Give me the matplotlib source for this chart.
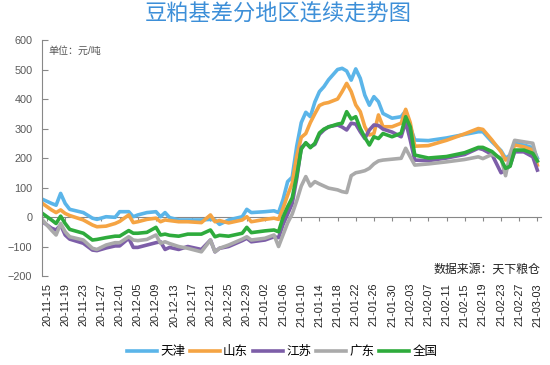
import numpy as np
import pandas as pd
import matplotlib
matplotlib.use('Agg')
import matplotlib.pyplot as plt
import matplotlib.dates as mdates

plt.rcParams['font.family'] = ['Liberation Sans', 'Noto Sans CJK SC', 'DejaVu Sans']

# sample dates
dates = ['2020-11-14', '2020-11-16', '2020-11-17', '2020-11-18', '2020-11-19', '2020-11-20',
         '2020-11-23', '2020-11-25', '2020-11-26', '2020-11-28', '2020-11-30', '2020-12-01',
         '2020-12-03', '2020-12-04', '2020-12-05', '2020-12-07', '2020-12-09', '2020-12-10',
         '2020-12-11', '2020-12-12', '2020-12-14', '2020-12-16', '2020-12-19', '2020-12-21',
         '2020-12-22', '2020-12-23', '2020-12-25', '2020-12-28', '2020-12-29', '2020-12-30',
         '2021-01-02', '2021-01-04', '2021-01-05', '2021-01-06', '2021-01-07', '2021-01-08',
         '2021-01-09', '2021-01-10', '2021-01-11', '2021-01-12', '2021-01-13', '2021-01-14',
         '2021-01-15', '2021-01-16', '2021-01-18', '2021-01-19', '2021-01-20', '2021-01-21',
         '2021-01-22', '2021-01-23', '2021-01-24', '2021-01-25', '2021-01-26', '2021-01-27',
         '2021-01-28', '2021-01-30', '2021-02-01', '2021-02-02', '2021-02-03', '2021-02-04',
         '2021-02-07', '2021-02-11', '2021-02-15', '2021-02-18', '2021-02-19', '2021-02-21',
         '2021-02-23', '2021-02-24', '2021-02-25', '2021-02-26', '2021-02-28', '2021-03-02',
         '2021-03-03']

tianjin = [60, 46, 40, 80, 46, 26, 15, -4, -8, 1, -1, 18, 18, 1, 7, 15, 18, 1, 15, -2,
           -10, -10, -10, -8, -10, -25, -10, 1, 26, 15, 18, 21, 15, 60, 120, 135, 240, 320,
           355, 340, 390, 425, 442, 465, 500, 504, 495, 464, 502, 470, 413, 379, 408, 391,
           351, 335, 340, 360, 306, 261, 259, 268, 280, 289, 289, 255, 225, 199, 210, 250,
           244, 235, 200]
shandong = [46, 24, 15, 24, 12, 5, -10, -27, -33, -31, -22, -15, 7, -19, -16, -8, -4, -16,
            -10, -12, -16, -16, -19, 7, -16, -12, -20, -10, 1, -16, -8, -4, -8, 30, 74, 114,
            205, 270, 283, 320, 350, 378, 385, 388, 400, 425, 453, 425, 380, 357, 306, 278,
            283, 346, 306, 306, 318, 365, 320, 240, 242, 260, 282, 300, 297, 261, 221, 193,
            204, 244, 238, 227, 176]
jiangsu = [-16, -38, -44, -27, -61, -75, -89, -112, -114, -105, -98, -98, -72, -103, -103,
           -95, -87, -84, -110, -103, -110, -100, -110, -78, -118, -106, -100, -80, -72, -84,
           -78, -67, -70, -25, 10, 45, 130, 235, 250, 238, 246, 280, 295, 306, 312, 305, 295,
           318, 315, 289, 266, 295, 312, 310, 298, 288, 272, 323, 261, 193, 191, 200, 212,
           233, 229, 212, 150, 160, 175, 221, 221, 204, 159]
guangdong = [-10, -45, -61, -22, -50, -67, -78, -106, -110, -95, -87, -87, -67, -78, -80,
             -76, -61, -89, -84, -90, -100, -106, -118, -78, -118, -106, -95, -75, -67, -78,
             -72, -61, -100, -60, -20, 10, 55, 105, 137, 105, 120, 112, 105, 98, 92, 86, 83,
             140, 150, 153, 157, 165, 180, 190, 193, 196, 199, 233, 204, 176, 180, 187, 195,
             204, 198, 212, 200, 140, 215, 260, 255, 250, 190]
quanguo = [12, -10, -22, 3, -22, -42, -55, -78, -76, -70, -65, -65, -46, -55, -55, -52,
           -35, -61, -58, -62, -65, -58, -58, -44, -67, -62, -65, -55, -35, -53, -47, -44,
           -50, 0, 35, 65, 140, 230, 252, 235, 250, 285, 298, 305, 315, 318, 357, 332, 340,
           300, 270, 244, 272, 266, 283, 272, 284, 340, 306, 210, 200, 205, 218, 236, 236,
           222, 195, 165, 172, 227, 227, 216, 190]

names = ['天津', '山东', '江苏', '广东', '全国']
colors = ['#5bb5e9', '#f5a443', '#7d5ea8', '#aaaaaa', '#2eab3c']

x = pd.to_datetime(dates)

fig = plt.figure(figsize=(5.5, 3.65), dpi=100)
ax = fig.add_axes([0.0764, 0.2438, 0.9072, 0.6466])

for vals, name, c in zip([tianjin, shandong, jiangsu, guangdong, quanguo], names, colors):
    ax.plot(x, vals, color=c, lw=2.6, label=name, solid_joinstyle='round')

start = pd.Timestamp('2020-11-15')
ax.set_xlim(start - pd.Timedelta(days=1.1), start + pd.Timedelta(days=108.8))
ax.set_ylim(-200, 600)
ax.set_yticks(np.arange(-200, 601, 100))

ticks = pd.date_range('2020-11-15', '2021-03-03', freq='4D')
ax.set_xticks(ticks)
ax.xaxis.set_major_formatter(mdates.DateFormatter('%y-%m-%d'))
ax.tick_params(axis='x', length=0, pad=5, labelsize=7.8, labelrotation=90, colors='#222222')
ax.tick_params(axis='y', direction='in', length=4, width=0.8, color='#888888',
               labelsize=7.8, labelcolor='#595959', pad=7)

for s in ['top', 'right', 'bottom']:
    ax.spines[s].set_visible(False)
ax.spines['left'].set_color('#888888')
ax.spines['left'].set_linewidth(0.8)

# axis line through zero with small ticks (0 is at 25% of the -200..600 range)
zax = ax.secondary_xaxis(0.25)
zax.set_xticks(ticks)
zax.tick_params(axis='x', direction='out', length=3, width=0.8, color='#888888', labelbottom=False)
zax.spines['bottom'].set_color('#888888')
zax.spines['bottom'].set_linewidth(0.8)
zax.set_zorder(0)

ax.text(0.012, 0.955, '单位：元/吨', transform=ax.transAxes, fontsize=7.2,
        color='#555555', va='center', ha='left')

fig.text(0.506, 0.958, '豆粕基差分地区连续走势图', fontsize=16, color='#3d8fd8',
         ha='center', va='center')
fig.text(0.982, 0.262, '数据来源：天下粮仓', fontsize=8.6, color='#222222',
         ha='right', va='center')

fig.legend(loc='center', bbox_to_anchor=(0.513, 0.036), ncol=5, frameon=False,
           fontsize=9, handlelength=2.4, handletextpad=0.25, columnspacing=0.4)

fig.savefig('out.png', dpi=100)
